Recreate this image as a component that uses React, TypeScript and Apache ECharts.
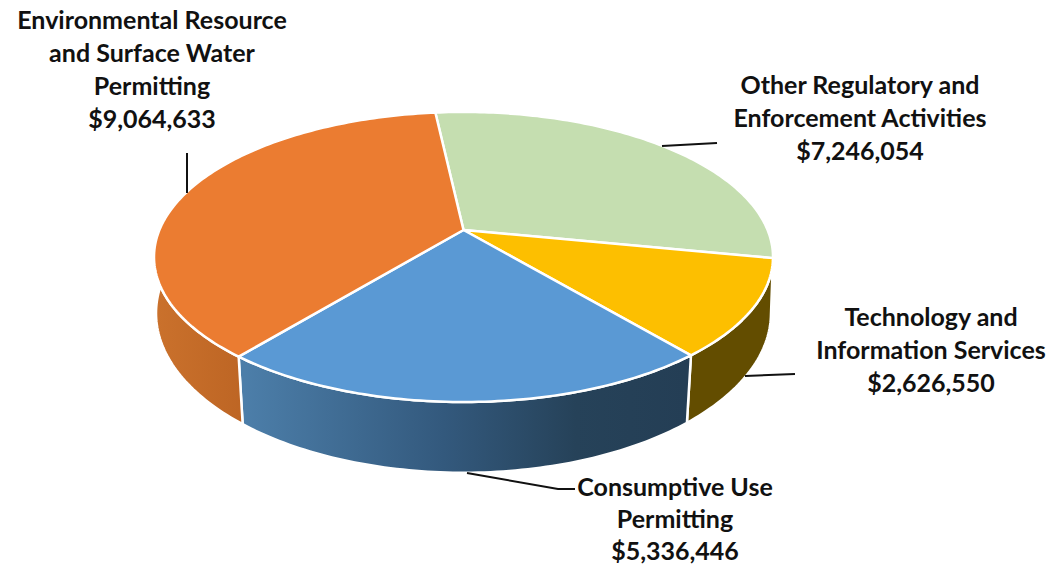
import React, { useEffect, useRef } from "react";
import * as echarts from "echarts";

const categories = [
  "Other Regulatory and\nEnforcement Activities",
  "Technology and\nInformation Services",
  "Consumptive Use\nPermitting",
  "Environmental Resource\nand Surface Water\nPermitting",
];
const amounts = [7246054, 2626550, 5336446, 9064633];
const topColors = ["#C5DEB0", "#FDBF00", "#5A99D4", "#EB7C31"];

const blueWall = [
  { offset: 0, color: "#4C7EA9" },
  { offset: 0.45, color: "#33597D" },
  { offset: 0.75, color: "#264259" },
  { offset: 1, color: "#243E55" },
];
const orangeWall = [
  { offset: 0, color: "#CA712C" },
  { offset: 1, color: "#BD6524" },
];

const labelAnchors = [
  [860, 117],
  [931, 349],
  [675, 517.5],
  [152, 68],
];
const labelLineHeights = [33, 33, 32, 33];
const leaderLines = [
  [[662, 146], [717, 143]],
  [[745, 376], [795, 374]],
  [[467, 473], [558, 489], [575, 489]],
  [[187, 153], [187, 193]],
];

const START_DEG = -96.3;
const total = amounts.reduce((a, b) => a + b, 0);

// Perspective disc: maps a unit-circle angle to screen space.
type Disc = { cx: number; cy: number; a: number; b: number; k: number };
const topDisc: Disc = { cx: 463.5, cy: 230, a: 140, b: 304.1, k: 0.186 };
const baseDisc: Disc = { cx: 463.5, cy: 286, a: 155, b: 303, k: 0.17 };

function project(d: Disc, deg: number): number[] {
  const t = (deg * Math.PI) / 180;
  const u = Math.cos(t);
  const v = Math.sin(t);
  const w = 1 - d.k * v;
  return [d.cx + (d.b * u) / w, d.cy + (d.a * v) / w];
}

function sliceSpan(i: number): number[] {
  let before = 0;
  for (let j = 0; j < i; j++) before += amounts[j];
  const from = START_DEG + (before / total) * 360;
  return [from, from + (amounts[i] / total) * 360];
}

function rim(d: Disc, from: number, to: number): number[][] {
  const pts: number[][] = [];
  const n = Math.max(2, Math.ceil(Math.abs(to - from)));
  for (let s = 0; s <= n; s++) pts.push(project(d, from + ((to - from) * s) / n));
  return pts;
}

function wallFill(i: number): any {
  if (i === 1) return "#634D00";
  if (i === 0) return "#8C9E7C";
  const colorStops = i === 2 ? blueWall : orangeWall;
  const [x, x2] = i === 2 ? [245, 686] : [156, 245];
  return { type: "linear", x, y: 0, x2, y2: 0, global: true, colorStops };
}

const formatMoney = (v: number) => "$" + v.toLocaleString("en-US");

export default function App() {
  const ref = useRef<HTMLDivElement>(null);

  useEffect(() => {
    const chart = echarts.init(ref.current!, undefined, { renderer: "svg" });
    const data = categories.map((name, i) => ({ name, value: amounts[i] }));

    chart.setOption({
      animation: false,
      backgroundColor: "#FFFFFF",
      series: [
        {
          // Side walls, painted first so the top disc hides the far half.
          type: "custom",
          coordinateSystem: "none",
          z: 1,
          data,
          renderItem: (params: any) => {
            const i = params.dataIndex;
            const [from, to] = sliceSpan(i);
            const points = [...rim(topDisc, from, to), ...rim(baseDisc, to, from)];
            return {
              type: "polygon",
              shape: { points },
              style: { fill: wallFill(i), stroke: "#FFFFFF", lineWidth: 2.5, lineJoin: "round" },
            };
          },
        },
        {
          // Top face of each slice.
          type: "custom",
          coordinateSystem: "none",
          z: 2,
          data,
          renderItem: (params: any) => {
            const i = params.dataIndex;
            const [from, to] = sliceSpan(i);
            const apex = [topDisc.cx, topDisc.cy];
            return {
              type: "polygon",
              shape: { points: [apex, ...rim(topDisc, from, to)] },
              style: { fill: topColors[i], stroke: "#FFFFFF", lineWidth: 2.5, lineJoin: "round" },
            };
          },
        },
        {
          // Leader lines and the category / amount labels.
          type: "custom",
          coordinateSystem: "none",
          z: 3,
          data,
          renderItem: (params: any, api: any) => {
            const i = params.dataIndex;
            const [x, y] = labelAnchors[i];
            return {
              type: "group",
              children: [
                {
                  type: "polyline",
                  shape: { points: leaderLines[i] },
                  style: { fill: "none", stroke: "#111111", lineWidth: 2 },
                },
                {
                  type: "text",
                  x,
                  y,
                  style: {
                    text: categories[i] + "\n" + formatMoney(api.value(0)),
                    align: "center",
                    verticalAlign: "middle",
                    fontFamily: "Lato",
                    fontWeight: 700,
                    fontSize: 25,
                    lineHeight: labelLineHeights[i],
                    fill: "#111111",
                  },
                },
              ],
            };
          },
        },
      ],
    });

    return () => chart.dispose();
  }, []);

  return (
    <div
      ref={ref}
      style={{ position: "fixed", left: 0, top: 0, width: 1052, height: 565 }}
    />
  );
}
